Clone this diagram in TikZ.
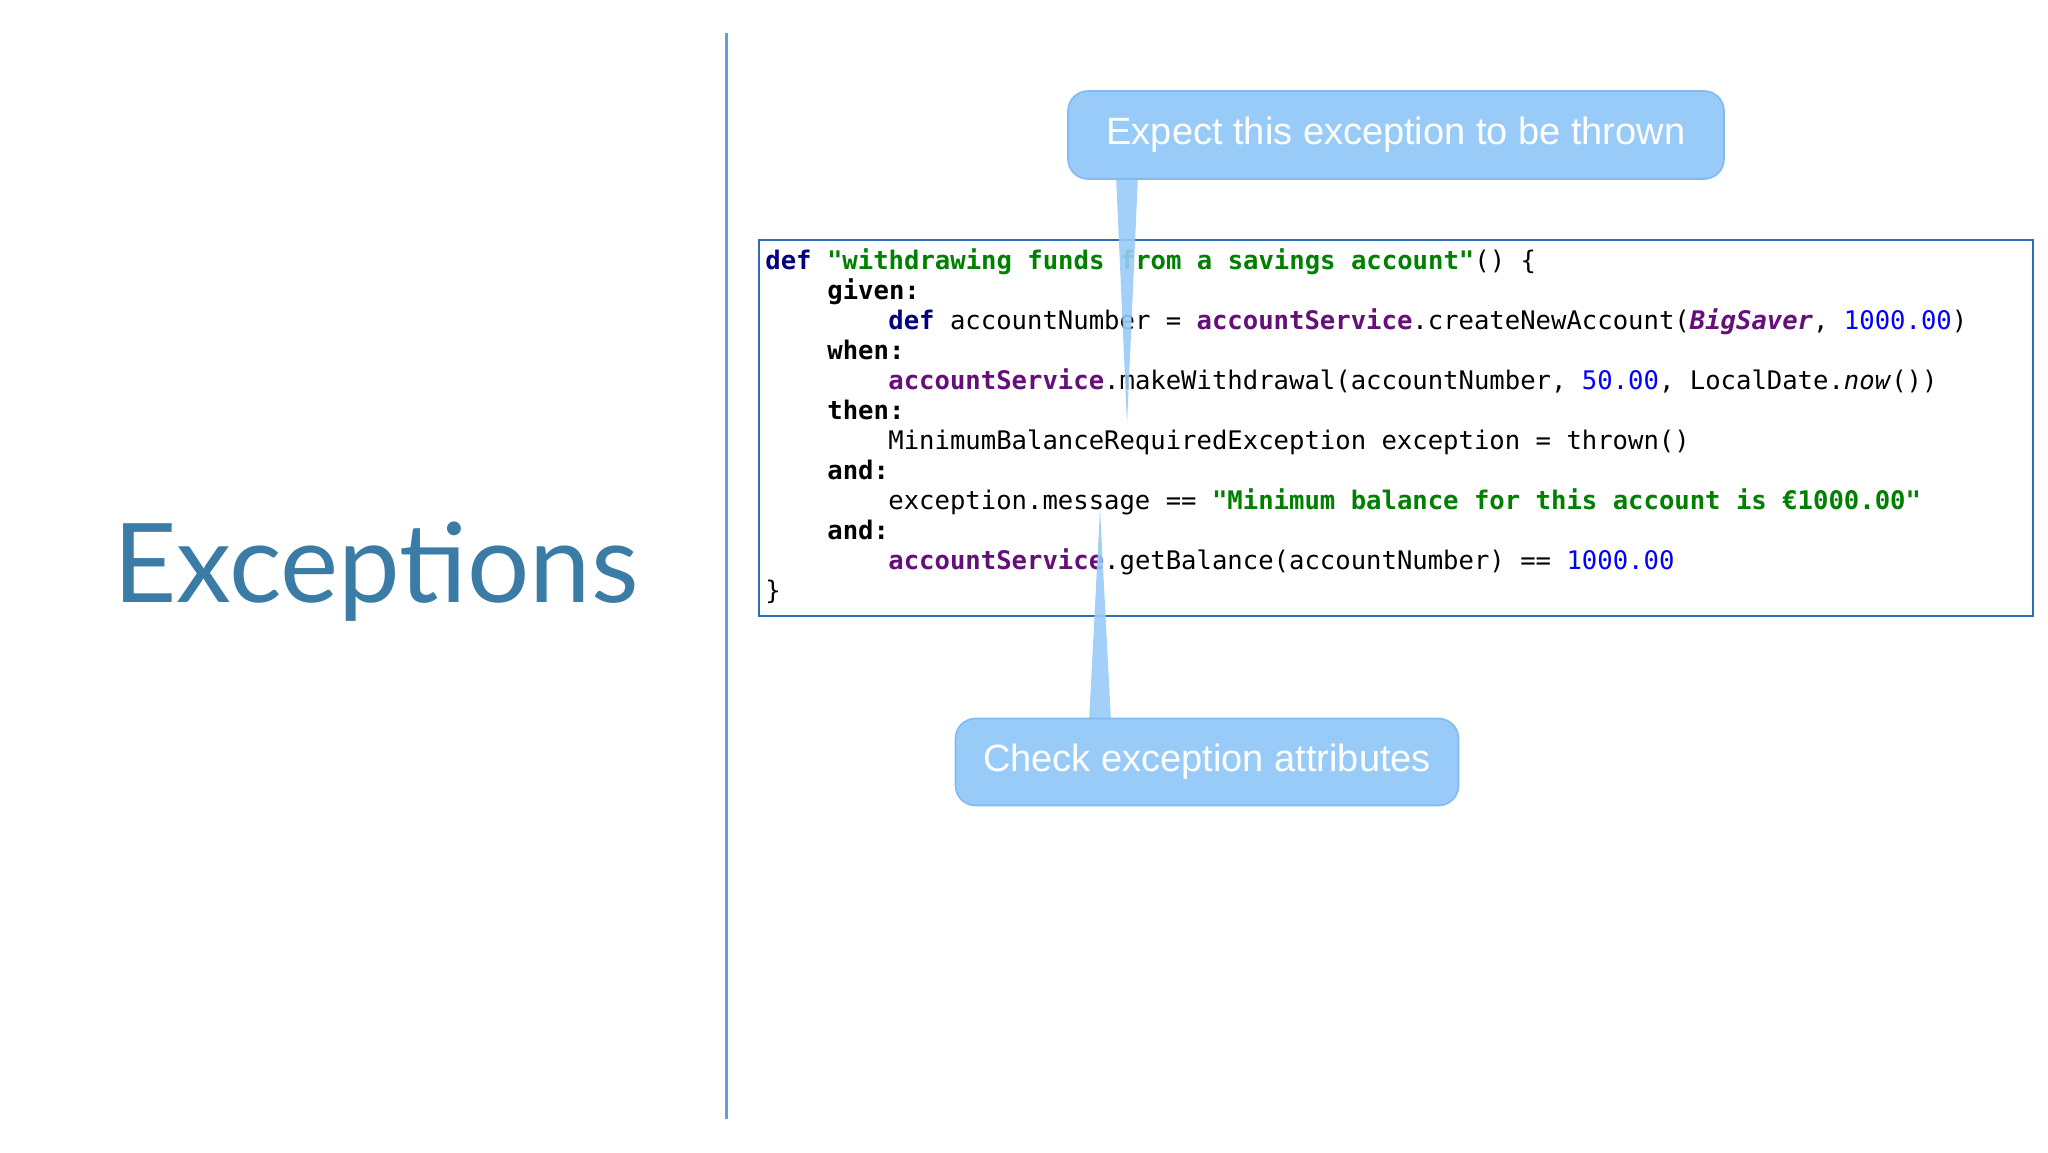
\documentclass[tikz,border=0pt]{standalone}
\usepackage{fontspec}
\setmainfont{Liberation Sans}
\setmonofont{DejaVu Sans Mono}
\newfontfamily\titlefont{Lato}
\definecolor{kw}{HTML}{000080}
\definecolor{str}{HTML}{008000}
\definecolor{pur}{HTML}{660E7A}
\definecolor{num}{HTML}{0000FF}
\definecolor{callfill}{HTML}{99CBF8}
\definecolor{calldraw}{HTML}{80BAF0}
\definecolor{rule}{HTML}{5A9EE6}
\definecolor{boxc}{HTML}{2E6DB8}
\definecolor{titlec}{HTML}{3A7CA5}
\newcommand{\K}[1]{\textcolor{kw}{\bfseries #1}}
\newcommand{\B}[1]{\textbf{#1}}
\newcommand{\St}[1]{\textcolor{str}{\bfseries #1}}
\newcommand{\Pu}[1]{\textcolor{pur}{\bfseries #1}}
\newcommand{\Nm}[1]{\textcolor{num}{#1}}
\tikzset{
  codeline/.style={anchor=base west,inner sep=0pt,font=\ttfamily\fontsize{12.8}{15}\selectfont},
  callout/.style={fill=callfill,draw=calldraw,line width=0.8pt,rounded corners=10pt,text=white,font=\fontsize{19}{21}\selectfont,inner sep=0pt},
  tail/.style={fill=callfill,draw=none,opacity=0.9}
}
\begin{document}
\begin{tikzpicture}[x=0.5pt,y=-0.5pt]
\useasboundingbox (0,0) rectangle (2048,1152);
\fill[white] (0,0) rectangle (2048,1152);
\draw[rule,line width=1.5pt] (726,33) coordinate (r1) -- (726,1119) coordinate (r2);
\node[titlec,font=\titlefont\fontsize{55}{60}\selectfont,inner sep=0pt] (title) at (376,572) {Exceptions};
\draw[boxc,line width=1pt] (759,240) rectangle (2033,616);
\node[codeline] (l1) at (765,269) {\K{def} \St{"withdrawing funds from a savings account"}() \{};
\node[codeline] (l2) at (827,299) {\B{given:}};
\node[codeline] (l3) at (888,329) {\K{def} accountNumber = \Pu{accountService}.createNewAccount(\Pu{\itshape BigSaver}, \Nm{1000.00})};
\node[codeline] (l4) at (827,359) {\B{when:}};
\node[codeline] (l5) at (888,389) {\Pu{accountService}.makeWithdrawal(accountNumber, \Nm{50.00}, LocalDate.\textit{now}())};
\node[codeline] (l6) at (827,419) {\B{then:}};
\node[codeline] (l7) at (888,449) {MinimumBalanceRequiredException exception = thrown()};
\node[codeline] (l8) at (827,479) {\B{and:}};
\node[codeline] (l9) at (888,509) {exception.message == \St{"Minimum balance for this account is €1000.00"}};
\node[codeline] (l10) at (827,539) {\B{and:}};
\node[codeline] (l11) at (888,569) {\Pu{accountService}.getBalance(accountNumber) == \Nm{1000.00}};
\node[codeline] (l12) at (765,599) {\}};
\coordinate (p1) at (1127,424);
\coordinate (p2) at (1100,509);
\fill[tail] (1116,175) -- (1138,175) -- (p1) -- cycle;
\fill[tail] (1089,722) -- (1111,722) -- (p2) -- cycle;
\node[callout,minimum width=328pt,minimum height=44pt] (c1) at (1396,135) {Expect this exception to be thrown};
\node[callout,minimum width=251.5pt,minimum height=43.5pt] (c2) at (1207,762) {Check exception attributes};
\end{tikzpicture}
\end{document}
